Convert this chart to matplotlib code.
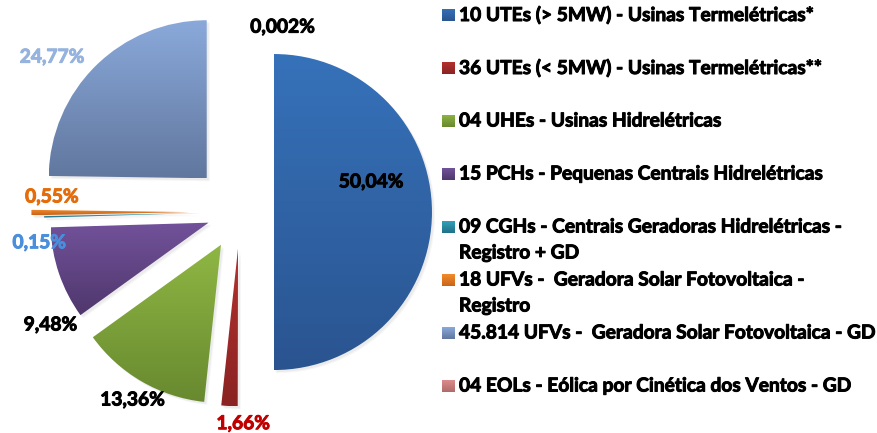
import numpy as np
import matplotlib.pyplot as plt
import matplotlib.patheffects as pe
from matplotlib.colors import LinearSegmentedColormap
from matplotlib.patches import PathPatch
from matplotlib.transforms import Affine2D

plt.rcParams['font.family'] = ['Lato', 'DejaVu Sans']

# dados
rotulos = ["10 UTEs (> 5MW) - Usinas Termelétricas*",
           "36 UTEs (< 5MW) - Usinas Termelétricas**",
           "04 UHEs - Usinas Hidrelétricas",
           "15 PCHs - Pequenas Centrais Hidrelétricas",
           "09 CGHs - Centrais Geradoras Hidrelétricas -\nRegistro + GD",
           "18 UFVs -  Geradora Solar Fotovoltaica -\nRegistro",
           "45.814 UFVs -  Geradora Solar Fotovoltaica - GD",
           "04 EOLs - Eólica por Cinética dos Ventos - GD"]
valores = [50.04, 1.66, 13.36, 9.48, 0.15, 0.55, 24.77, 0.002]
textos = ["50,04%", "1,66%", "13,36%", "9,48%", "0,15%", "0,55%", "24,77%", "0,002%"]

# estilo
explode = [0.215, 0.23, 0.24, 0.21, 0.24, 0.32, 0.30, 0.30]
cores = [("#3672ba", "#2a5490"),
         ("#b3312f", "#8a2323"),
         ("#8fb744", "#68892f"),
         ("#72529b", "#4f376c"),
         ("#31a2bb", "#207086"),
         ("#f38b2b", "#c8641a"),
         ("#8aa9da", "#61779e"),
         ("#dc8c8c", "#b06a6a")]
cor_texto = ["black", "#c00000", "black", "black", "#4a8fdc", "#e46c0a", "#95b3de", "black"]
pos_texto = [(0.83, 0.19), (0.02, -1.34), (-0.68, -1.19), (-1.20, -0.715),
             (-1.27, -0.195), (-1.19, 0.095), (-1.19, 0.98), (0.27, 1.17)]

W, H = 877, 433
escala = 158.0           # pixels por unidade
cx, cy = 240, 221        # centro da pizza (pixels a partir de baixo)
fs = 13.8


def negrito(c):
    return [pe.withStroke(linewidth=0.7, foreground=c)]


fig = plt.figure(figsize=(W / 100, H / 100), dpi=100)
ax = fig.add_axes([0, 0, 1, 1])

wedges, _ = ax.pie(valores, explode=explode, startangle=90, counterclock=False,
                   radius=1, wedgeprops=dict(linewidth=0))

# sombra suave
for d, a in [(3.0, 0.06), (2.0, 0.08)]:
    desloc = Affine2D().translate(d / escala, -d / escala)
    for w in wedges:
        ax.add_patch(PathPatch(w.get_path(), transform=desloc + ax.transData,
                               facecolor='#707070', edgecolor='none', alpha=a,
                               zorder=1))

grad = np.linspace(0, 1, 256).reshape(-1, 1)
for w, (c1, c2) in zip(wedges, cores):
    w.set_facecolor('none')
    b = w.get_path().get_extents()
    cmap = LinearSegmentedColormap.from_list('g', [c2, c1])
    im = ax.imshow(grad, cmap=cmap, origin='lower', aspect='auto',
                   extent=(b.x0, b.x1, b.y0, b.y1), interpolation='bilinear', zorder=2)
    im.set_clip_path(w)

for t, (x, y), c in zip(textos, pos_texto, cor_texto):
    ax.text(x, y, t, ha='center', va='center', fontsize=fs, fontweight='bold',
            color=c, zorder=5, path_effects=negrito(c))

ax.set_xlim(-cx / escala, (W - cx) / escala)
ax.set_ylim(-cy / escala, (H - cy) / escala)
ax.set_aspect('auto')
ax.axis('off')

# legenda
y0, passo, linha = H - 15, 53, 26
for i, (r, (c1, c2)) in enumerate(zip(rotulos, cores)):
    yc = y0 - i * passo
    sw = fig.add_axes([442 / W, (yc - 6) / H, 13 / W, 12 / H])
    sw.imshow(grad, cmap=LinearSegmentedColormap.from_list('s', [c2, c1]),
              origin='lower', aspect='auto', interpolation='bilinear')
    sw.axis('off')
    for k, parte in enumerate(r.split('\n')):
        fig.text(459 / W, (yc - k * linha) / H, parte, ha='left', va='center',
                 fontsize=fs, fontweight='bold', color='black',
                 path_effects=negrito('black'))

fig.savefig('out.png', dpi=100)
